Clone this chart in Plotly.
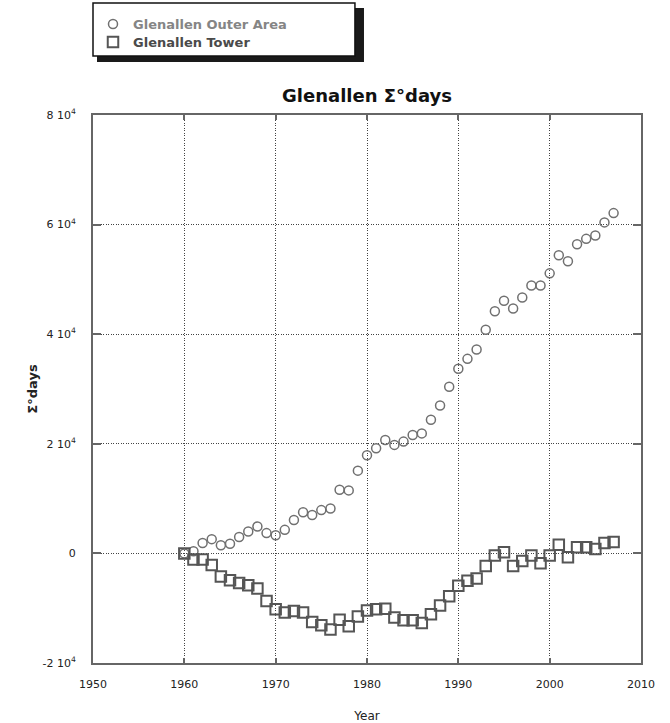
import plotly.graph_objects as go

years_outer = list(range(1960, 2008))
outer_area = [0, 400, 1900, 2600, 1500, 1750, 3000, 4000, 4900, 3700,
              3300, 4300, 6100, 7500, 7000, 7900, 8200, 11600, 11500, 15100,
              17900, 19200, 20700, 19800, 20400, 21600, 21900, 24400, 27000, 30400,
              33700, 35500, 37200, 40800, 44200, 46100, 44700, 46700, 48900, 48900,
              51100, 54400, 53300, 56400, 57400, 58000, 60400, 62100]

years_tower = list(range(1960, 2008))
tower = [0, -1100, -1100, -2100, -4200, -4900, -5400, -5800, -6400, -8700,
         -10200, -10800, -10500, -10800, -12500, -13100, -13900, -12100, -13300, -11500,
         -10400, -10200, -10100, -11700, -12200, -12200, -12700, -11100, -9500, -7800,
         -5900, -5000, -4600, -2300, -400, 200, -2300, -1400, -400, -1800,
         -400, 1600, -700, 1100, 1100, 800, 1900, 2100]

x_ticks = [1950, 1960, 1970, 1980, 1990, 2000, 2010]
y_ticks = [-20000, 0, 20000, 40000, 60000, 80000]
y_ticktext = ["-2 10<sup>4</sup>", "0", "2 10<sup>4</sup>", "4 10<sup>4</sup>",
              "6 10<sup>4</sup>", "8 10<sup>4</sup>"]

FONT = "DejaVu Sans, Verdana, sans-serif"

fig = go.Figure()
fig.add_trace(go.Scatter(
    x=years_outer, y=outer_area, mode="markers", legend="legend",
    name="<b><span style='color:#858585'>Glenallen Outer Area</span></b>",
    marker=dict(symbol="circle-open", size=9, color="#707070", line=dict(width=1.5, color="#707070")),
))
fig.add_trace(go.Scatter(
    x=years_tower, y=tower, mode="markers", legend="legend2",
    name="<b><span style='color:#4a4a4a'>Glenallen Tower</span></b>",
    marker=dict(symbol="square-open", size=10.5, color="#555555", line=dict(width=2, color="#555555")),
))

axis_common = dict(
    showline=True, linecolor="#666666", linewidth=2, mirror="ticks",
    ticks="inside", tickcolor="#666666", tickwidth=1.5,
    showgrid=True, gridcolor="#444444", gridwidth=1, griddash="1px,1.5px",
    zeroline=False, automargin=False,
    tickfont=dict(family=FONT, size=11, color="#222222"),
)

fig.update_xaxes(
    range=[1950, 2010], tickvals=x_ticks, ticklen=5, ticklabelstandoff=10,
    title=dict(text="Year", font=dict(family=FONT, size=12, color="#222222"), standoff=21),
    **axis_common,
)
fig.update_yaxes(
    range=[-20000, 80000], tickvals=y_ticks, ticktext=y_ticktext, ticklen=8, ticklabelstandoff=13,
    title=dict(text="<b>Σ°days</b>", font=dict(family=FONT, size=13, color="#222222"), standoff=2),
    **axis_common,
)

legend_common = dict(xanchor="left", yanchor="top", bgcolor="rgba(0,0,0,0)", borderwidth=0,
                     font=dict(family=FONT, size=13), itemwidth=30)

fig.update_layout(
    width=670, height=723,
    margin=dict(l=93, r=29, t=115, b=60, autoexpand=False),
    paper_bgcolor="white", plot_bgcolor="white",
    font=dict(family=FONT, color="#222222"),
    title=dict(text="<b>Glenallen Σ°days</b>", x=0.5, xref="paper", xanchor="center",
               y=1 - 96 / 723, yref="container", yanchor="middle",
               font=dict(family=FONT, size=18, color="#111111")),
    showlegend=True,
    legend=dict(x=0.0, y=1.1934, **legend_common),
    legend2=dict(x=0.0, y=1.1606, **legend_common),
    shapes=[
        dict(type="rect", xref="paper", yref="paper", x0=0.0073, x1=0.4945, y0=1.0967, y1=1.1953,
             fillcolor="#1a1a1a", line=dict(width=0), layer="below"),
        dict(type="rect", xref="paper", yref="paper", x0=0.0, x1=0.478, y0=1.1077, y1=1.2044,
             fillcolor="white", line=dict(width=1.5, color="#111111"), layer="below"),
    ],
)

fig.write_html("out.html", config={"displayModeBar": False},
               post_script="document.body.style.margin='0';")
